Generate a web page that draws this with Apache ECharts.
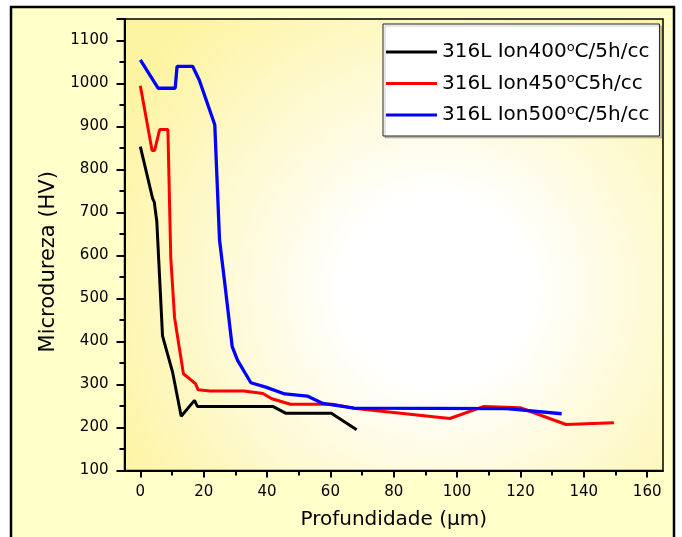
<!DOCTYPE html>
<html>
<head>
<meta charset="utf-8">
<script src="https://cdn.jsdelivr.net/npm/echarts@6/dist/echarts.min.js"></script>
<style>
  html, body { margin: 0; padding: 0; background: #ffffff; }
  #chart { width: 682px; height: 537px; }
</style>
</head>
<body>
<div id="chart"></div>
<script>
// depth (um) / hardness (HV)
const depth400 = [0, 3.9, 4.4, 5.2, 7.0, 10.2, 12.9, 17.1, 18.0, 41.8, 46.0, 60.3, 68.3]
const hv400 = [853, 732, 724, 679, 413, 328, 226, 263, 249, 249, 233, 233, 195]

const depth450 = [0, 3.7, 4.5, 6.1, 8.7, 9.6, 10.8, 13.6, 17.4, 18.2, 22, 32.7, 38.7, 41.5, 47.4, 60.7, 67.3, 97.7, 108.5, 119.9, 134.4, 149.5]
const hv450 = [995, 844, 844, 893, 893, 596, 456, 325, 302, 288, 285, 285, 279, 267, 254, 254, 245, 221, 249, 246, 207, 211]

const depth500 = [0, 5.6, 11.0, 11.6, 16.5, 18.6, 21.2, 23.5, 25.0, 26.5, 29.0, 30.7, 34.9, 39.6, 45.6, 52.7, 57.6, 67.5, 115.6, 120, 133]
const hv500 = [1055, 989, 989, 1040, 1040, 1008, 953, 904, 636, 545, 388, 356, 304, 294, 278, 273, 256, 245, 244, 241, 232]

const seriesNames = ['316L Ion400°C/5h/cc', '316L Ion450°C5h/cc', '316L Ion500°C/5h/cc']
const xMajorTicks = [0, 20, 40, 60, 80, 100, 120, 140, 160]
const xMinorTicks = [10, 30, 50, 70, 90, 110, 130, 150]

const font = 'DejaVu Sans'

const pairs = (xs, ys) => xs.map((x, i) => [x, ys[i]])

const chart = echarts.init(document.getElementById('chart'))

const option = {
  backgroundColor: '#ffffff',
  animation: false,
  graphic: [
    {
      type: 'rect',
      z: -100,
      shape: { x: 11, y: 7, width: 663, height: 545 },
      style: { fill: '#ffffc9', stroke: '#000000', lineWidth: 2.5 },
    },
  ],
  grid: {
    left: 124.5,
    right: 19,
    top: 19,
    bottom: 66.5,
    show: true,
    borderColor: '#000000',
    borderWidth: 1.5,
    backgroundColor: {
      type: 'radial',
      x: 0.58,
      y: 0.6,
      r: 0.8,
      colorStops: [
        { offset: 0, color: '#ffffff' },
        { offset: 0.25, color: '#ffffff' },
        { offset: 1, color: '#fdf4a2' },
      ],
    },
  },
  legend: {
    left: 383,
    top: 24,
    orient: 'vertical',
    icon: 'rect',
    itemWidth: 51,
    itemHeight: 3,
    itemGap: 10.5,
    padding: [17, 10, 11, 3],
    backgroundColor: '#ffffff',
    borderColor: '#222222',
    borderWidth: 1,
    shadowColor: 'rgba(0,0,0,0.2)',
    shadowOffsetX: 2,
    shadowOffsetY: 2,
    data: seriesNames,
    formatter: (name) => {
      const parts = name.split('°')
      return '{a|' + parts[0] + '}{s|o}{a|' + parts[1] + '}'
    },
    textStyle: {
      color: '#000000',
      rich: {
        a: { fontFamily: font, fontSize: 20, lineHeight: 22, color: '#000' },
        s: { fontFamily: font, fontSize: 13, lineHeight: 11, verticalAlign: 'top', color: '#000' },
      },
    },
  },
  xAxis: [
    {
      type: 'value',
      min: -5,
      max: 165,
      name: 'Profundidade (μm)',
      nameLocation: 'middle',
      nameGap: 39,
      nameTextStyle: { fontFamily: font, fontSize: 20, color: '#000', verticalAlign: 'top' },
      splitLine: { show: false },
      axisLine: { onZero: false, lineStyle: { color: '#000', width: 2 } },
      axisTick: { customValues: xMajorTicks, length: 7, lineStyle: { color: '#000', width: 2 } },
      axisLabel: { customValues: xMajorTicks, margin: 14, fontFamily: font, fontSize: 15, color: '#000' },
    },
    {
      type: 'value',
      position: 'bottom',
      min: -5,
      max: 165,
      splitLine: { show: false },
      axisLine: { show: false, onZero: false },
      axisTick: { customValues: xMinorTicks, length: 5, lineStyle: { color: '#000', width: 2 } },
      axisLabel: { show: false },
    },
  ],
  yAxis: {
    type: 'value',
    min: 100,
    max: 1150,
    interval: 100,
    name: 'Microdureza (HV)',
    nameLocation: 'middle',
    nameGap: 45.5,
    nameTextStyle: { fontFamily: font, fontSize: 21, color: '#000', padding: [0, 34, 0, 0] },
    splitLine: { show: false },
    axisLine: { onZero: false, lineStyle: { color: '#000', width: 2 } },
    axisTick: { length: 8, lineStyle: { color: '#000', width: 2 } },
    minorTick: { show: true, splitNumber: 2, length: 5, lineStyle: { color: '#000', width: 2 } },
    axisLabel: {
      showMaxLabel: false,
      margin: 16,
      fontFamily: font,
      fontSize: 15,
      color: '#000',
      formatter: (v) => String(v),
    },
  },
  series: [
    {
      name: seriesNames[0],
      type: 'line',
      data: pairs(depth400, hv400),
      symbol: 'none',
      color: '#000000',
      lineStyle: { width: 3, color: '#000000' },
    },
    {
      name: seriesNames[1],
      type: 'line',
      data: pairs(depth450, hv450),
      symbol: 'none',
      color: '#ff0000',
      lineStyle: { width: 3, color: '#ff0000' },
    },
    {
      name: seriesNames[2],
      type: 'line',
      data: pairs(depth500, hv500),
      symbol: 'none',
      color: '#0000ff',
      lineStyle: { width: 3.3, color: '#0000ff' },
    },
  ],
}

chart.setOption(option)
</script>
</body>
</html>
